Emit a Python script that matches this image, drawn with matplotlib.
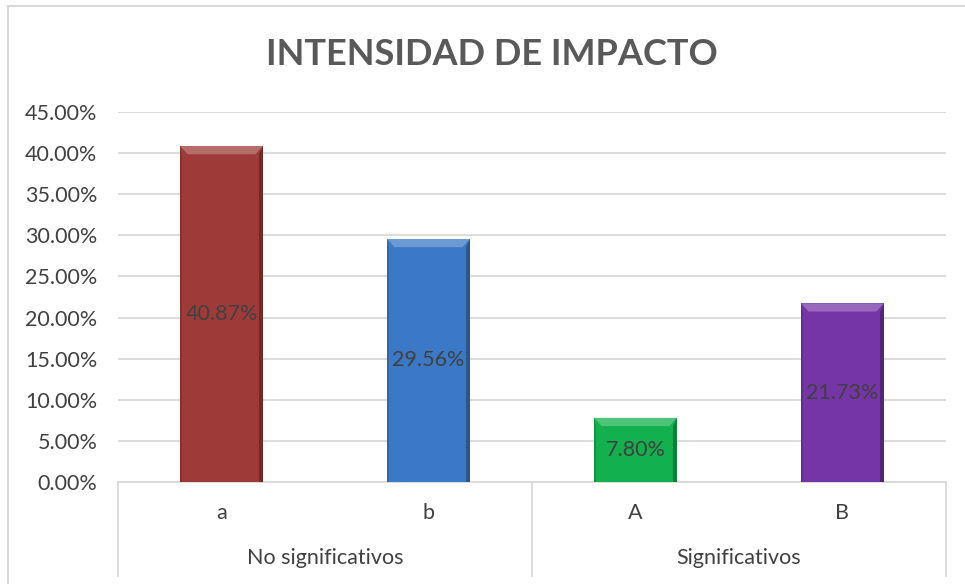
import matplotlib.pyplot as plt
from matplotlib.patches import Polygon
from matplotlib.ticker import FuncFormatter

categories = ["a", "b", "A", "B"]
groups = ["No significativos", "Significativos"]
group_sizes = [2, 2]
values = [0.4087, 0.2956, 0.0780, 0.2173]
colors = ["#9E3B39", "#3B78C6", "#13B04E", "#7635A6"]

TEXT = "#404040"
GRID = "#D9D9D9"


def shade(hex_color, factor):
    r, g, b = (int(hex_color[i:i + 2], 16) / 255 for i in (1, 3, 5))
    if factor > 1:
        f = factor - 1
        r, g, b = r + (1 - r) * f, g + (1 - g) * f, b + (1 - b) * f
    else:
        r, g, b = r * factor, g * factor, b * factor
    return (r, g, b)


def main():
    plt.rcParams["font.family"] = ["Lato", "DejaVu Sans"]
    fig = plt.figure(figsize=(9.65, 5.84), dpi=100)
    ax = fig.add_axes([0.1223, 0.1747, 0.858, 0.6335])

    x = list(range(len(categories)))
    bars = ax.bar(x, values, width=0.4, color=colors, zorder=3)

    # bevel look: light top edge, darker side edges
    bev = 0.010
    for rect, c in zip(bars, colors):
        x0, w, h = rect.get_x(), rect.get_width(), rect.get_height()
        bw = w * 0.09
        top = Polygon([(x0, h), (x0 + w, h), (x0 + w - bw, h - bev), (x0 + bw, h - bev)],
                      closed=True, color=shade(c, 1.25), lw=0, zorder=4)
        right = Polygon([(x0 + w, h), (x0 + w, 0), (x0 + w - bw * 0.5, 0),
                         (x0 + w - bw * 0.5, h - bev)],
                        closed=True, color=shade(c, 0.72), lw=0, zorder=4)
        left = Polygon([(x0, h), (x0, 0), (x0 + bw * 0.3, 0), (x0 + bw * 0.3, h - bev)],
                       closed=True, color=shade(c, 0.85), lw=0, zorder=4)
        ax.add_patch(top)
        ax.add_patch(right)
        ax.add_patch(left)
        ax.text(rect.get_x() + w / 2, h / 2, f"{h * 100:.2f}%", ha="center", va="center",
                fontsize=15.5, color=TEXT, zorder=5)

    ax.set_xlim(-0.5, len(categories) - 0.5)
    ax.set_ylim(0, 0.45)
    ax.set_yticks([i * 0.05 for i in range(10)])
    ax.yaxis.set_major_formatter(FuncFormatter(lambda v, _: f"{v * 100:.2f}%"))
    ax.tick_params(axis="y", length=0, labelsize=15.5, labelcolor=TEXT, pad=15)
    ax.set_xticks([])
    ax.grid(axis="y", color=GRID, lw=1.3, zorder=0)
    for s in ["top", "right", "left"]:
        ax.spines[s].set_visible(False)
    ax.spines["bottom"].set_color(GRID)
    ax.spines["bottom"].set_linewidth(1.3)

    # multi-level category axis
    depth = -0.255
    for xi, cat in zip(x, categories):
        ax.text(xi, -0.083, cat, transform=ax.get_xaxis_transform(), ha="center",
                va="center", fontsize=15.5, color=TEXT)
    start = -0.5
    ax.plot([start, start], [0, depth], transform=ax.get_xaxis_transform(),
            color=GRID, lw=1.3, clip_on=False)
    for g, n in zip(groups, group_sizes):
        end = start + n
        ax.plot([end, end], [0, depth], transform=ax.get_xaxis_transform(),
                color=GRID, lw=1.3, clip_on=False)
        ax.text((start + end) / 2, -0.205, g, transform=ax.get_xaxis_transform(),
                ha="center", va="center", fontsize=15.5, color=TEXT)
        start = end

    fig.text(0.51, 0.906, "INTENSIDAD DE IMPACTO", ha="center", va="center",
             fontsize=26, fontweight="bold", color="#595959")

    # chart frame (top and left edges visible in the crop)
    fig.add_artist(plt.Line2D([0.0078, 1.0], [0.9897, 0.9897], color=GRID, lw=1.5))
    fig.add_artist(plt.Line2D([0.0078, 0.0078], [0.0, 0.9897], color=GRID, lw=1.5))

    fig.savefig("out.png", dpi=100)


if __name__ == "__main__":
    main()
